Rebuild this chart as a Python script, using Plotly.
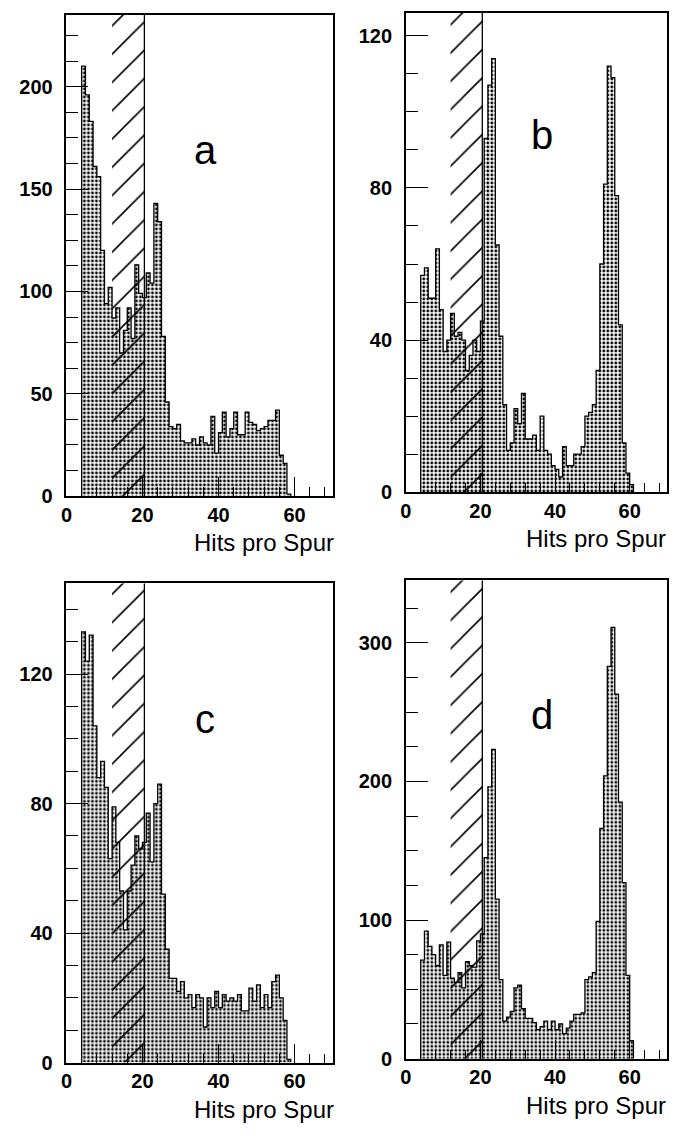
import plotly.graph_objects as go
from plotly.subplots import make_subplots

# Hits pro Spur histograms, bin width 1, first bin starts at 4 hits
first_bin = 4
counts_a = [210, 196, 183, 161, 156, 120, 94, 102, 87, 92, 70, 81, 92, 77, 113, 99, 97,
            109, 104, 143, 134, 78, 46, 34, 33, 35, 27, 26, 26, 28, 25, 29, 26, 25, 39,
            21, 31, 41, 29, 33, 41, 30, 30, 41, 36, 35, 32, 33, 34, 37, 37, 42, 20, 16, 1]
counts_b = [57, 59, 51, 51, 64, 48, 37, 40, 47, 41, 42, 40, 32, 36, 40, 37, 45,
            93, 107, 114, 65, 41, 23, 11, 13, 22, 18, 26, 14, 14, 15, 11, 20, 11, 10,
            7, 6, 4, 12, 7, 7, 10, 10, 12, 20, 21, 23, 32, 60, 81, 112, 109, 78, 44, 13, 5, 2]
counts_c = [133, 124, 132, 104, 88, 93, 85, 63, 79, 68, 53, 41, 53, 61, 70, 66, 68,
            77, 62, 80, 86, 52, 35, 26, 26, 22, 25, 20, 21, 17, 21, 20, 11, 20, 17,
            22, 17, 21, 19, 20, 19, 21, 16, 16, 23, 19, 24, 17, 21, 17, 25, 27, 20, 13, 1]
counts_d = [71, 92, 81, 75, 67, 82, 60, 84, 58, 55, 62, 51, 70, 67, 66, 85, 90,
            145, 196, 223, 115, 57, 27, 30, 34, 51, 53, 36, 29, 29, 26, 21, 23, 27, 21,
            27, 21, 25, 18, 22, 27, 32, 32, 33, 57, 59, 62, 99, 166, 204, 283, 311, 263,
            185, 127, 60, 13]

# cut region (hatched) and the cut line
hatch_lo = 12
cut = 20.5

panel_labels = ['a', 'b', 'c', 'd']
label_y = [169, 94, 106, 248]
y_tops = [235, 126, 148, 345]
y_dticks = [50, 40, 40, 100]
y_minor = [12.5, 10, 10, 25]

# the page keeps its 8px body margin; the figure fills the rest exactly
PAD = 8
W, H = 677 - 2 * PAD, 1144 - 2 * PAD
# panel boxes in page pixels: (left, right, top, bottom)
boxes = [(61, 330, 15, 501), (404, 668, 13, 497),
         (61, 330, 589, 1073), (404, 668, 586, 1069)]

fig = make_subplots(rows=2, cols=2)

font = 'Liberation Sans, Arial, sans-serif'

for i, counts in enumerate([counts_a, counts_b, counts_c, counts_d]):
    row, col = i // 2 + 1, i % 2 + 1
    top = y_tops[i]
    edges = [first_bin + k for k in range(len(counts) + 1)]
    xs = [edges[0]] + edges
    ys = [0] + counts + [0]

    # stippled histogram
    fig.add_trace(go.Scatter(
        x=xs, y=ys, mode='lines',
        line=dict(shape='hv', color='black', width=1.3),
        fill='tozeroy', fillcolor='white',
        fillpattern=dict(shape='.', fgcolor='black', bgcolor='white',
                         size=4, solidity=0.4, fillmode='replace'),
        showlegend=False, hoverinfo='skip'
    ), row=row, col=col)

    # hatched cut region
    fig.add_trace(go.Scatter(
        x=[hatch_lo, cut, cut, hatch_lo, hatch_lo], y=[0, 0, top, top, 0],
        mode='none', fill='toself', fillcolor='rgba(0,0,0,0)',
        fillpattern=dict(shape='/', fgcolor='black', bgcolor='rgba(0,0,0,0)', fgopacity=1,
                         size=20, solidity=0.08, fillmode='overlay'),
        showlegend=False, hoverinfo='skip'
    ), row=row, col=col)

    # cut line
    fig.add_trace(go.Scatter(
        x=[cut, cut], y=[0, top], mode='lines',
        line=dict(color='black', width=1.3),
        showlegend=False, hoverinfo='skip'
    ), row=row, col=col)

    l, r, t, b = [v - PAD for v in boxes[i]]
    fig.update_xaxes(
        domain=[l / W, r / W], range=[0, 70],
        tickmode='linear', tick0=0, dtick=20,
        ticks='inside', ticklen=19, tickwidth=1.3, tickcolor='black',
        minor=dict(ticks='inside', ticklen=9, tickwidth=1.3, tickcolor='black', dtick=4, tick0=0),
        showline=True, mirror=True, linecolor='black', linewidth=1.5,
        showgrid=False, zeroline=False,
        tickfont=dict(family=font, size=20, color='black', weight='bold'),
        row=row, col=col
    )
    fig.update_yaxes(
        domain=[1 - b / H, 1 - t / H], range=[0, top],
        tickmode='linear', tick0=0, dtick=y_dticks[i],
        ticks='inside', ticklen=22, tickwidth=1.3, tickcolor='black',
        minor=dict(ticks='inside', ticklen=12, tickwidth=1.3, tickcolor='black',
                   dtick=y_minor[i], tick0=0),
        showline=True, mirror=True, linecolor='black', linewidth=1.5,
        showgrid=False, zeroline=False,
        ticklabelstandoff=8,
        tickfont=dict(family=font, size=20, color='black', weight='bold'),
        row=row, col=col
    )

    xref = 'x' if i == 0 else f'x{i + 1}'
    yref = 'y' if i == 0 else f'y{i + 1}'
    fig.add_annotation(x=36.5, y=label_y[i], xref=xref, yref=yref, text=panel_labels[i],
                       showarrow=False, font=dict(family=font, size=40, color='black'))
    fig.add_annotation(x=min(r + 3, W) / W, y=1 - (b + 47) / H, xref='paper', yref='paper',
                       text='Hits pro Spur', showarrow=False, xanchor='right', yanchor='middle',
                       font=dict(family=font, size=24, color='black'))

fig.update_layout(
    width=W, height=H,
    margin=dict(l=0, r=0, t=0, b=0),
    paper_bgcolor='white', plot_bgcolor='white',
    showlegend=False
)

fig.write_html('out.html')
